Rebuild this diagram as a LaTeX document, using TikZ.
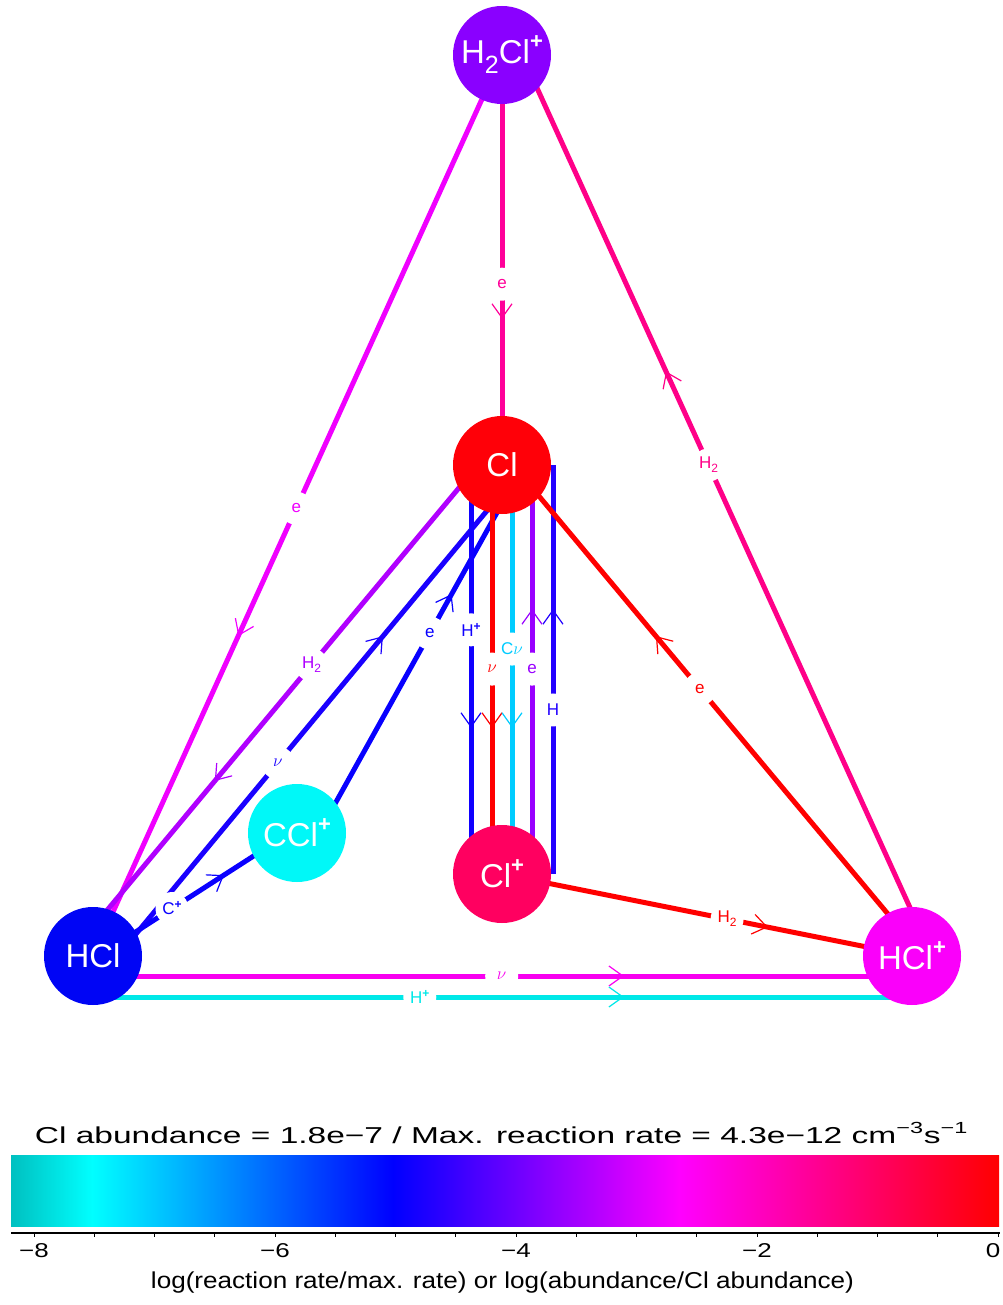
\documentclass[tikz,border=0pt]{standalone}
\usepackage{fontspec}
\usepackage{graphicx}
\setmainfont{Liberation Sans}
\usetikzlibrary{calc,decorations.markings}
\pgfdeclarelayer{bg}
\pgfsetlayers{bg,main}
% node colours
\definecolor{nH2Cl}{HTML}{8A00FF}
\definecolor{nCl}{HTML}{FF0008}
\definecolor{nCCl}{HTML}{00F8F8}
\definecolor{nClp}{HTML}{FF0060}
\definecolor{nHCl}{HTML}{0005F5}
\definecolor{nHClp}{HTML}{FA00FA}
% edge colours
\definecolor{cMag}{HTML}{F000FF}
\definecolor{cPk}{HTML}{FF0099}
\definecolor{cPkb}{HTML}{FF0088}
\definecolor{cVio}{HTML}{B000FF}
\definecolor{cBa}{HTML}{1A00FF}
\definecolor{cBb}{HTML}{0800FF}
\definecolor{cBc}{HTML}{0A00FF}
\definecolor{cBd}{HTML}{1000FF}
\definecolor{cRed}{HTML}{FF0000}
\definecolor{cCya}{HTML}{00CCFF}
\definecolor{cViob}{HTML}{9900FF}
\definecolor{cBe}{HTML}{2200FF}
\definecolor{cMagb}{HTML}{F800F0}
\definecolor{cCyb}{HTML}{00E8E8}
% colorbar colours
\definecolor{bTeal}{HTML}{00C0C0}
\definecolor{bCyan}{HTML}{00FFFF}
\definecolor{bBlue}{HTML}{0000FF}
\definecolor{bMag}{HTML}{FF00FF}
\definecolor{bRed}{HTML}{FF0000}
\newcommand\spp{\raisebox{15pt}{\fontsize{22}{22}\selectfont\bfseries +}}
\newcommand\sbb[1]{\raisebox{-10pt}{\fontsize{25}{25}\selectfont #1}}
\newcommand\lsup[1]{\raisebox{6pt}{\fontsize{12}{12}\selectfont\bfseries #1}}
\newcommand\lsub[1]{\raisebox{-4pt}{\fontsize{12}{12}\selectfont #1}}
\newcommand\nuu{{\fontsize{19}{19}\selectfont$\nu$}}
\tikzset{
  spc/.style={circle, minimum size=98pt, inner sep=0pt, text=white,
    font=\fontsize{33}{33}\selectfont},
  rx/.style={line width=5pt},
  lab/.style={circle, fill=white, minimum size=33pt, inner sep=0pt,
    font=\fontsize{17}{17}\selectfont},
  fwd/.style 2 args={postaction={decorate, decoration={markings,
    mark=at position #1 with {\draw[#2, line width=1.2pt, line join=miter]
      (-14pt,10pt) -- (0pt,0pt) -- (-14pt,-10pt);}}}},
  axtxt/.style={font=\fontsize{23}{23}\selectfont, inner sep=0pt},
  ticktxt/.style={font=\fontsize{20}{20}\selectfont, inner sep=0pt, anchor=base}
}
\begin{document}
\begin{tikzpicture}[x=1pt,y=-1pt]
\useasboundingbox (0,0) rectangle (1002,1305);

% species
\node[spc, fill=nH2Cl] (H2Cl) at (502,55) {H\sbb{2}Cl\spp};
\node[spc, fill=nCl]   (Cl)   at (502,465) {Cl};
\node[spc, fill=nCCl]  (CCl)  at (297,833) {CCl\spp};
\node[spc, fill=nClp]  (Clp)  at (502,874) {Cl\spp};
\node[spc, fill=nHCl]  (HCl)  at (93,956) {HCl};
\node[spc, fill=nHClp] (HClp) at (912,956) {HCl\spp};

\begin{pgfonlayer}{bg}
\fill[white] (0,0) rectangle (1002,1305);
% H2Cl+ -> HCl
\draw[rx, draw=cMag, fwd={0.644}{cMag}] (H2Cl.center) -- node[lab, text=cMag, pos=0.503] (l1) {e} (HCl.center);
% H2Cl+ -> Cl
\draw[rx, draw=cPk, fwd={0.641}{cPk}] (H2Cl.center) -- node[lab, text=cPk, pos=0.559] (l2) {e} (Cl.center);
% HCl+ -> H2Cl+
\draw[rx, draw=cPkb, fwd={0.648}{cPkb}] ($(HClp.center)+(20,0)$) -- node[lab, text=cPkb, pos=0.545] (l3) {H\lsub{2}} ($(H2Cl.center)+(20,0)$);
% Cl -> HCl
\draw[rx, draw=cVio, fwd={0.642}{cVio}] ($(Cl.center)+(-24,0)$) -- node[lab, text=cVio, pos=0.407] (l4) {H\lsub{2}} ($(HCl.center)+(-24,0)$);
% HCl -> Cl (nu)
\draw[rx, draw=cBa, fwd={0.681}{cBa}] ($(HCl.center)+(38,-16)$) -- node[lab, text=cBa, pos=0.398] (l5) {\nuu} ($(Cl.center)+(-2,30)$);
% CCl+ -> Cl
\draw[rx, draw=cBb, fwd={0.703}{cBb}] ($(CCl.center)+(29,-13)$) -- node[lab, text=cBb, pos=0.584] (l6) {e} ($(Cl.center)+(2,35)$);
% HCl -> CCl+
\draw[rx, draw=cBc, fwd={0.644}{cBc}] ($(HCl.center)+(27,-14)$) -- node[lab, text=cBc, pos=0.325] (l7) {C\lsup{+}} ($(CCl.center)+(-17,6)$);
% Cl <-> Cl+ verticals
\draw[rx, draw=cBd, fwd={0.64}{cBd}] ($(Cl.center)+(-31,0)$) -- node[lab, text=cBd, pos=0.403] (l8) {H\lsup{+}} ($(Clp.center)+(-31,0)$);
\draw[rx, draw=cRed, fwd={0.64}{cRed}] ($(Cl.center)+(-10,0)$) -- node[lab, text=cRed, pos=0.499] (l9) {\nuu} ($(Clp.center)+(-10,0)$);
\draw[rx, draw=cCya, fwd={0.64}{cCya}] ($(Cl.center)+(10,0)$) -- node[lab, text=cCya, pos=0.45] (l10) {C\nuu} ($(Clp.center)+(10,0)$);
\draw[rx, draw=cViob, fwd={0.645}{cViob}] ($(Clp.center)+(30,0)$) -- node[lab, text=cViob, pos=0.501] (l11) {e} ($(Cl.center)+(30,0)$);
\draw[rx, draw=cBe, fwd={0.645}{cBe}] ($(Clp.center)+(51,0)$) -- node[lab, text=cBe, pos=0.401] (l12) {H} ($(Cl.center)+(51,0)$);
% HCl+ -> Cl
\draw[rx, draw=cRed, fwd={0.65}{cRed}] ($(HClp.center)+(11,0)$) -- node[lab, text=cRed, pos=0.544] (l13) {e} ($(Cl.center)+(11,0)$);
% Cl+ -> HCl+
\draw[rx, draw=cRed, fwd={0.646}{cRed}] (Clp.center) -- node[lab, text=cRed, pos=0.549] (l14) {H\lsub{2}} (HClp.center);
% HCl -> HCl+
\draw[rx, draw=cMagb, fwd={0.647}{cMagb}] ($(HCl.center)+(0,20)$) -- node[lab, text=cMagb, pos=0.499] (l15) {\nuu} ($(HClp.center)+(0,20)$);
\draw[rx, draw=cCyb, fwd={0.647}{cCyb}] ($(HCl.center)+(0,41)$) -- node[lab, text=cCyb, pos=0.399] (l16) {H\lsup{+}} ($(HClp.center)+(0,41)$);
\end{pgfonlayer}

% title
\node[axtxt, anchor=base] (title) at (501.5,1143) {\resizebox{933pt}{\height}{Cl abundance = 1.8e−7 / Max. reaction rate = 4.3e−12 cm\textsuperscript{−3}s\textsuperscript{−1}}};

% colour bar
\shade[left color=bTeal, right color=bCyan] (11,1155) rectangle (92.5,1226);
\shade[left color=bCyan, right color=bBlue] (92,1155) rectangle (393.5,1226);
\shade[left color=bBlue, right color=bMag] (393,1155) rectangle (680.5,1226);
\shade[left color=bMag, right color=bRed] (680,1155) rectangle (999,1226);

% axis
\draw[line width=1.6pt] (11,1233) -- (1000,1233);
\foreach \v in {-8,-7.5,...,0}{
  \draw[line width=0.8pt] ({998+120.5*\v},1233) -- ({998+120.5*\v},1237);
}
\node[ticktxt] (t8) at (34,1257) {\scalebox{1.3}[1]{−8}};
\node[ticktxt] (t6) at (275,1257) {\scalebox{1.3}[1]{−6}};
\node[ticktxt] (t4) at (516,1257) {\scalebox{1.3}[1]{−4}};
\node[ticktxt] (t2) at (757,1257) {\scalebox{1.3}[1]{−2}};
\node[ticktxt] (t0) at (993,1257) {\scalebox{1.3}[1]{0}};
\node[axtxt, anchor=base] (xlab) at (502.5,1288) {\resizebox{703pt}{\height}{log(reaction rate/max. rate) or log(abundance/Cl abundance)}};
\end{tikzpicture}
\end{document}
